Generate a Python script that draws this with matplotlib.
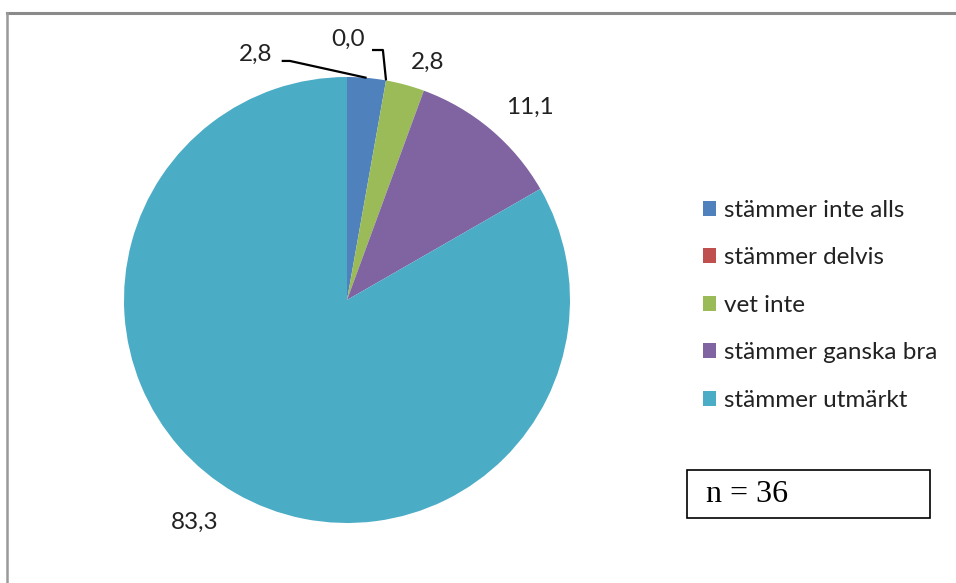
import numpy as np
import matplotlib.pyplot as plt
from matplotlib.lines import Line2D
from matplotlib.patches import Rectangle

# Data
categories = ['stämmer inte alls', 'stämmer delvis', 'vet inte',
              'stämmer ganska bra', 'stämmer utmärkt']
values = [2.8, 0.0, 2.8, 11.1, 83.3]
value_labels = ['2,8', '0,0', '2,8', '11,1', '83,3']
colors = ['#4F81BD', '#C0504D', '#9BBB59', '#8064A2', '#4BACC6']
n_text = 'n = 36'

W, H = 956, 583
cx, cy, R = 347, 300, 223  # pie centre / radius in pixels

fig = plt.figure(figsize=(W / 100, H / 100), dpi=100)
ax = fig.add_axes([0, 0, 1, 1])

wedges, _ = ax.pie(values, colors=colors, startangle=90, counterclock=False,
                   radius=1.0, wedgeprops=dict(linewidth=0))
ax.set_aspect('auto')
ax.set_xlim(-cx / R, (W - cx) / R)
ax.set_ylim(-(H - cy) / R, cy / R)
ax.axis('off')

# label positions (data units, radius = 1)
label_pos = [(-0.41, 1.10), (0.005, 1.17), (0.363, 1.067), (0.821, 0.865), (-0.682, -0.996)]
font = 'Lato'
txt_col = '#222222'
for lab, (x, y) in zip(value_labels, label_pos):
    ax.text(x, y, lab, ha='center', va='center', fontsize=17.5, family=font, color=txt_col)

# leader lines for the two small slices at the top
def mid_point(i):
    start = 90 - sum(values[:i]) / sum(values) * 360
    ang = np.deg2rad(start - values[i] / sum(values) * 360 / 2)
    return np.cos(ang), np.sin(ang)

px, py = mid_point(0)
ax.plot([-0.293, -0.256, px], [1.072, 1.072, py], color='black', lw=1.6, solid_capstyle='butt')
px, py = mid_point(1)
ax.plot([0.112, 0.161, px], [1.121, 1.121, py], color='black', lw=1.6, solid_capstyle='butt')

# legend
leg = fig.legend(wedges, categories, loc='upper left',
                 bbox_to_anchor=(681 / W, 1 - 178 / H), frameon=False,
                 prop=dict(family=font, size=17.5), labelcolor=txt_col,
                 handlelength=0.55, handleheight=0.55, handletextpad=0.3,
                 labelspacing=1.09)

# n box
fig.patches.append(Rectangle((687 / W, 1 - 518 / H), 243 / W, 48 / H,
                             transform=fig.transFigure, fill=False,
                             edgecolor='black', linewidth=1.2))
fig.text(706 / W, 1 - 494 / H, n_text, ha='left', va='center',
         family='Liberation Serif', fontsize=23, color='black')

# outer frame (top and left)
fig.lines.append(Line2D([7 / W, 1], [1 - 13 / H, 1 - 13 / H], transform=fig.transFigure,
                        color='#8a8a8a', lw=2.2))
fig.lines.append(Line2D([7 / W, 7 / W], [0, 1 - 13 / H], transform=fig.transFigure,
                        color='#9a9a9a', lw=1.8))

fig.savefig('out.png', dpi=100)
